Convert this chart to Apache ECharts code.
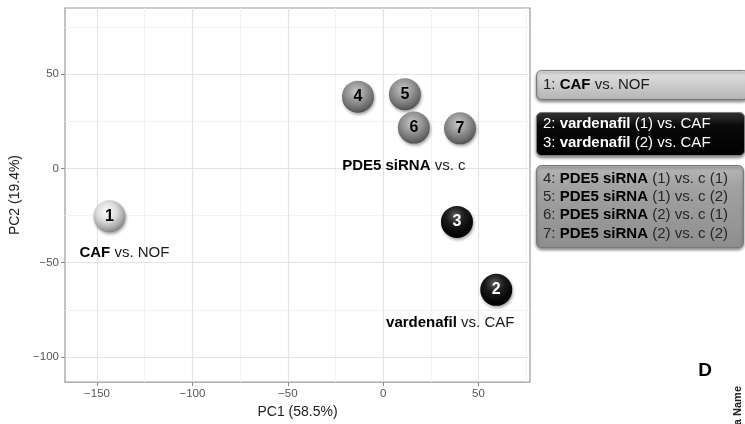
<!DOCTYPE html>
<html>
<head>
<meta charset="utf-8">
<script src="https://cdn.jsdelivr.net/npm/echarts@6/dist/echarts.min.js"></script>
<style>
html,body{margin:0;padding:0;background:#fff;}
#chart{width:745px;height:424px;}
</style>
</head>
<body>
<div id="chart"></div>
<script>
// ---- data ----
const pointIds = [1, 2, 3, 4, 5, 6, 7];
const pc1 = [-143.5, 59.3, 38.7, -13.2, 11.4, 16.1, 40.3];
const pc2 = [-25.4, -64.4, -28.4, 38.0, 39.3, 21.6, 21.2];
const pointGroup = [0, 1, 1, 2, 2, 2, 2];

const groupBold = ['CAF', 'vardenafil', 'PDE5 siRNA'];
const groupRest = [' vs. NOF', ' vs. CAF', ' vs. c'];
const groupAnchor = [0, 1, 5]; // index of the point each group caption hangs from

const xTicks = [-150, -100, -50, 0, 50];
const xMinor = [-125, -75, -25, 25, 75];
const yTicks = [-100, -50, 0, 50];
const yMinor = [-75, -25, 25, 75];
const xName = 'PC1 (58.5%)';
const yName = 'PC2 (19.4%)';

const legendPrefix = [['1: '], ['2: ', '3: '], ['4: ', '5: ', '6: ', '7: ']];
const legendBold = [['CAF'], ['vardenafil', 'vardenafil'], ['PDE5 siRNA', 'PDE5 siRNA', 'PDE5 siRNA', 'PDE5 siRNA']];
const legendSuffix = [[' vs. NOF'], [' (1) vs. CAF', ' (2) vs. CAF'], [' (1) vs. c (1)', ' (1) vs. c (2)', ' (2) vs. c (1)', ' (2) vs. c (2)']];
const panelLetter = 'D';
const sideText = 'Data Name';

// ---- styles ----
const FONT = "'Liberation Sans', Arial, sans-serif";
function radial(stops, cx, cy, r) {
  return new echarts.graphic.RadialGradient(cx, cy, r, stops.map(c => ({offset: c[0], color: c[1]})));
}
const sphereFill = [
  radial([[0, '#ffffff'], [0.45, '#dcdcdc'], [0.8, '#a4a4a4'], [1, '#7a7a7a']], 0.42, 0.36, 0.68),
  radial([[0, '#5c5c5c'], [0.4, '#1c1c1c'], [0.8, '#050505'], [1, '#000000']], 0.45, 0.3, 0.72),
  radial([[0, '#c8c8c8'], [0.45, '#939393'], [0.8, '#666666'], [1, '#444444']], 0.45, 0.35, 0.7)
];
const numberColor = ['#000', '#fff', '#000'];
const captionOffset = [[15, 37], [-46, 33], [-10, 38]];

const boxFill = [
  new echarts.graphic.LinearGradient(0, 0, 0, 1, [{offset: 0, color: '#e8e8e8'}, {offset: 0.35, color: '#d3d3d3'}, {offset: 1, color: '#b4b4b4'}]),
  new echarts.graphic.LinearGradient(0, 0, 0, 1, [{offset: 0, color: '#3c3c3c'}, {offset: 0.3, color: '#0a0a0a'}, {offset: 1, color: '#000'}]),
  new echarts.graphic.LinearGradient(0, 0, 0, 1, [{offset: 0, color: '#b8b8b8'}, {offset: 0.25, color: '#a2a2a2'}, {offset: 1, color: '#8e8e8e'}])
];
const boxTextColor = [['#1a1a1a', '#000'], ['#fff', '#fff'], ['#262626', '#000']];
const boxLayout = [
  {y: 70, h: 29, w: 212},
  {y: 112, h: 43, w: 208},
  {y: 165, h: 82, w: 207}
];

const chart = echarts.init(document.getElementById('chart'), null, {renderer: 'canvas'});

const pointData = pointIds.map((id, i) => ({
  value: [pc1[i], pc2[i]],
  name: String(id),
  itemStyle: {color: sphereFill[pointGroup[i]]},
  label: {color: numberColor[pointGroup[i]]}
}));

const captionData = groupAnchor.map((p, g) => ({
  value: [pc1[p], pc2[p]],
  label: {
    offset: captionOffset[g],
    formatter: '{b|' + groupBold[g] + '}{r|' + groupRest[g] + '}'
  }
}));

const gridLineData = []
  .concat(xMinor.map(v => ({xAxis: v, lineStyle: {color: '#f2f2f2', width: 1, type: 'solid'}})))
  .concat(yMinor.map(v => ({yAxis: v, lineStyle: {color: '#f2f2f2', width: 1, type: 'solid'}})))
  .concat(xTicks.map(v => ({xAxis: v, lineStyle: {color: '#e3e3e3', width: 1.2, type: 'solid'}})))
  .concat(yTicks.map(v => ({yAxis: v, lineStyle: {color: '#e3e3e3', width: 1.2, type: 'solid'}})));

function fmt(v) { return v < 0 ? '\u2212' + Math.abs(v) : String(v); }

const graphics = [];
boxLayout.forEach((b, g) => {
  graphics.push({
    type: 'rect', left: 536, top: b.y, z: 10,
    shape: {width: b.w, height: b.h, r: 5},
    style: {fill: boxFill[g], stroke: '#7a7a7a', lineWidth: 1,
      shadowColor: 'rgba(0,0,0,0.45)', shadowBlur: 3, shadowOffsetY: 2, shadowOffsetX: 0}
  });
  const n = legendPrefix[g].length;
  const lineH = 18.3;
  const startY = b.y + b.h / 2 - (n - 1) * lineH / 2;
  for (let k = 0; k < n; k++) {
    graphics.push({
      type: 'text', x: 543, y: startY + k * lineH, z: 11,
      style: {
        text: '{p|' + legendPrefix[g][k] + '}{b|' + legendBold[g][k] + '}{p|' + legendSuffix[g][k] + '}',
        verticalAlign: 'middle', align: 'left',
        rich: {
          p: {fontFamily: FONT, fontSize: 15, fill: boxTextColor[g][0]},
          b: {fontFamily: FONT, fontSize: 15, fontWeight: 'bold', fill: boxTextColor[g][1]}
        }
      }
    });
  }
});
graphics.push({
  type: 'text', x: 705, y: 371, z: 11,
  style: {text: panelLetter, fontFamily: FONT, fontSize: 19, fontWeight: 'bold', fill: '#000', align: 'center', verticalAlign: 'middle'}
});
graphics.push({
  type: 'text', x: 738, y: 386, rotation: Math.PI / 2, z: 11,
  style: {text: sideText, fontFamily: FONT, fontSize: 11, fontWeight: 'bold', fill: '#222', align: 'right', verticalAlign: 'middle'}
});

const option = {
  animation: false,
  backgroundColor: '#fff',
  textStyle: {fontFamily: FONT},
  grid: {left: 65, right: 215, top: 8, bottom: 38, show: true, borderColor: '#9a9a9a', borderWidth: 1.2, backgroundColor: '#fff'},
  xAxis: {
    type: 'value', min: -166.8, max: 77,
    name: xName, nameLocation: 'middle', nameGap: 20,
    nameTextStyle: {fontFamily: FONT, fontSize: 14, color: '#222'},
    axisLine: {show: false, onZero: false},
    axisTick: {show: true, length: 4, customValues: xTicks, lineStyle: {color: '#888'}},
    axisLabel: {customValues: xTicks, formatter: fmt, fontFamily: FONT, fontSize: 11.5, color: '#555', margin: 6},
    splitLine: {show: false}
  },
  yAxis: {
    type: 'value', min: -113.3, max: 85,
    name: yName, nameLocation: 'middle', nameGap: 39,
    nameTextStyle: {fontFamily: FONT, fontSize: 14, color: '#222'},
    axisLine: {show: false, onZero: false},
    axisTick: {show: true, length: 4, customValues: yTicks, lineStyle: {color: '#888'}},
    axisLabel: {customValues: yTicks, formatter: fmt, fontFamily: FONT, fontSize: 11.5, color: '#555', margin: 6},
    splitLine: {show: false}
  },
  series: [
    {
      type: 'scatter', data: [], z: 1, silent: true,
      markLine: {silent: true, symbol: 'none', label: {show: false}, animation: false, data: gridLineData}
    },
    {
      type: 'scatter', z: 5, symbolSize: 32, data: pointData,
      itemStyle: {opacity: 1, shadowColor: 'rgba(0,0,0,0.35)', shadowBlur: 3, shadowOffsetY: 2, shadowOffsetX: 1},
      label: {show: true, position: 'inside', formatter: p => p.name, fontFamily: FONT, fontSize: 16, fontWeight: 'bold'}
    },
    {
      type: 'scatter', z: 6, symbolSize: 0, data: captionData, silent: true,
      itemStyle: {opacity: 1},
      label: {
        show: true, position: 'inside',
        rich: {
          b: {fontFamily: FONT, fontSize: 15, fontWeight: 'bold', color: '#000'},
          r: {fontFamily: FONT, fontSize: 15, color: '#1a1a1a'}
        }
      }
    }
  ],
  graphic: graphics
};
chart.setOption(option);
</script>
</body>
</html>
